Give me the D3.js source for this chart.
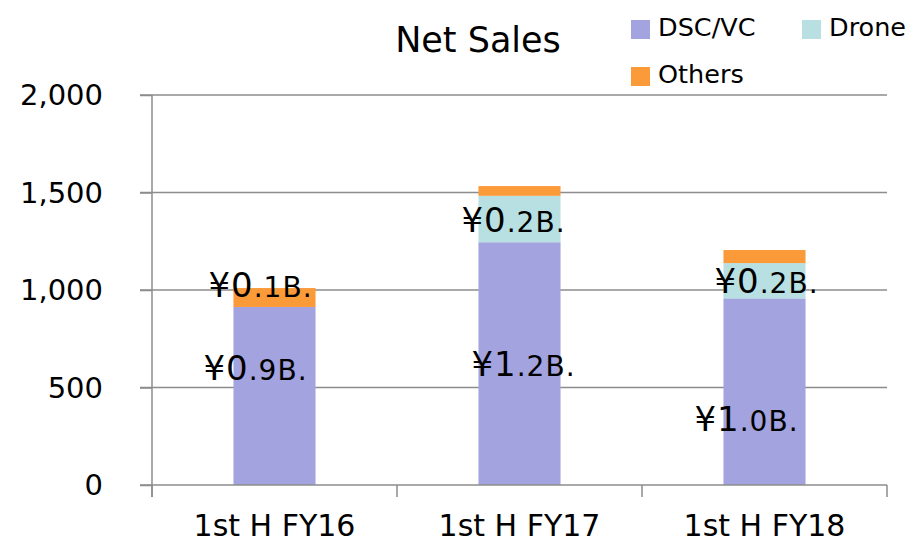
<!DOCTYPE html>
<html>
<head>
<meta charset="utf-8">
<script src="https://cdn.jsdelivr.net/npm/d3@7"></script>
<style>
  body { margin: 0; background: #fff; }
  svg text { font-family: "DejaVu Sans", Verdana, sans-serif; fill: #000; }
</style>
</head>
<body>
<div class="canvas"></div>
<script>
// data (hundred million yen)
const categories = ['1st H FY16', '1st H FY17', '1st H FY18'];
const seriesNames = ['DSC/VC', 'Drone', 'Others'];
const dscVc = [913, 1245, 957];
const drone = [0, 238, 181];
const others = [97, 50, 67];
const yTicks = [0, 500, 1000, 1500, 2000];

// value labels: [category index, series key, big part, small part]
const labels = [
  [0, 'DSC/VC', '¥0', '.9B.'],
  [0, 'Others', '¥0', '.1B.'],
  [1, 'DSC/VC', '¥1', '.2B.'],
  [1, 'Drone', '¥0', '.2B.'],
  [2, 'DSC/VC', '¥1', '.0B.'],
  [2, 'Drone', '¥0', '.2B.']
];
// hand placed offsets of those labels (like the dragged labels in the original)
const labelOffsets = [[-19, -16], [-14, -1], [4, 12], [-6, 13], [-18, 39], [2, 12]];

const colors = { 'DSC/VC': '#a3a3df', 'Drone': '#b8e0e2', 'Others': '#fb9a38' };

const W = 910, H = 544;
const svg = d3.select('.canvas').append('svg').attr('width', W).attr('height', H);

const plotLeft = 152, plotRight = 887, plotTop = 95, plotBottom = 485;

const x = d3.scaleBand().domain(categories).range([plotLeft, plotRight]).paddingInner(0.665).paddingOuter(0.3325);
const y = d3.scaleLinear().domain([0, 2000]).range([plotBottom, plotTop]);

const rows = categories.map((c, i) => ({ cat: c, 'DSC/VC': dscVc[i], 'Drone': drone[i], 'Others': others[i] }));
const stacked = d3.stack().keys(seriesNames)(rows);

// gridlines
svg.append('g').selectAll('line').data(yTicks.filter(d => d > 0)).join('line')
  .attr('x1', plotLeft - 12).attr('x2', plotRight)
  .attr('y1', d => y(d)).attr('y2', d => y(d))
  .attr('stroke', '#8c8c8c').attr('stroke-width', 1.5);

// bars
svg.append('g').selectAll('g').data(stacked).join('g')
  .attr('fill', d => colors[d.key])
  .selectAll('rect').data(d => d).join('rect')
  .attr('x', d => x(d.data.cat))
  .attr('width', x.bandwidth())
  .attr('y', d => y(d[1]))
  .attr('height', d => y(d[0]) - y(d[1]));

// y axis
const yAxis = svg.append('g').attr('transform', `translate(${plotLeft},0)`)
  .call(d3.axisLeft(y).tickValues(yTicks).tickSize(12).tickPadding(37).tickFormat(d3.format(',')));
yAxis.select('.domain').attr('stroke', '#8c8c8c').attr('stroke-width', 1.5).attr('d', `M0,${plotTop}V${plotBottom + 12}`);
yAxis.selectAll('.tick line').attr('stroke', '#8c8c8c').attr('stroke-width', 1.5);
yAxis.selectAll('.tick text').attr('font-size', 29).attr('dy', '0.34em')
  .style('font-family', '"DejaVu Sans", Verdana, sans-serif').attr('fill', '#000');

// x axis
svg.append('line').attr('x1', plotLeft - 12).attr('x2', plotRight).attr('y1', plotBottom).attr('y2', plotBottom)
  .attr('stroke', '#8c8c8c').attr('stroke-width', 1.5);
const step = x.step();
const bounds = d3.range(categories.length + 1).map(i => plotLeft + i * step);
svg.append('g').selectAll('line').data(bounds).join('line')
  .attr('x1', d => d).attr('x2', d => d).attr('y1', plotBottom).attr('y2', plotBottom + 12)
  .attr('stroke', '#8c8c8c').attr('stroke-width', 1.5);
svg.append('g').selectAll('text').data(categories).join('text')
  .attr('x', d => x(d) + x.bandwidth() / 2)
  .attr('y', 536)
  .attr('text-anchor', 'middle')
  .attr('font-size', 30)
  .text(d => d);

// value labels
labels.forEach((l, i) => {
  const s = stacked.find(d => d.key === l[1])[l[0]];
  const cx = x(categories[l[0]]) + x.bandwidth() / 2 + labelOffsets[i][0];
  const cy = y((s[0] + s[1]) / 2) + labelOffsets[i][1];
  const t = svg.append('text').attr('x', cx).attr('y', cy).attr('text-anchor', 'middle')
    .style('letter-spacing', '1px');
  t.append('tspan').attr('font-size', 34).text(l[2]);
  t.append('tspan').attr('font-size', 28).text(l[3]);
});

// title
svg.append('text').attr('x', 478).attr('y', 52).attr('text-anchor', 'middle')
  .attr('font-size', 35).text('Net Sales');

// legend
const legendPos = [[631, 20], [802, 20], [631, 67]];
const legend = svg.append('g').selectAll('g').data(seriesNames).join('g')
  .attr('transform', (d, i) => `translate(${legendPos[i][0]},${legendPos[i][1]})`);
legend.append('rect').attr('width', 19).attr('height', 19).attr('fill', d => colors[d]);
legend.append('text').attr('x', 27).attr('y', 16).attr('font-size', 25.5).text(d => d);
</script>
</body>
</html>
